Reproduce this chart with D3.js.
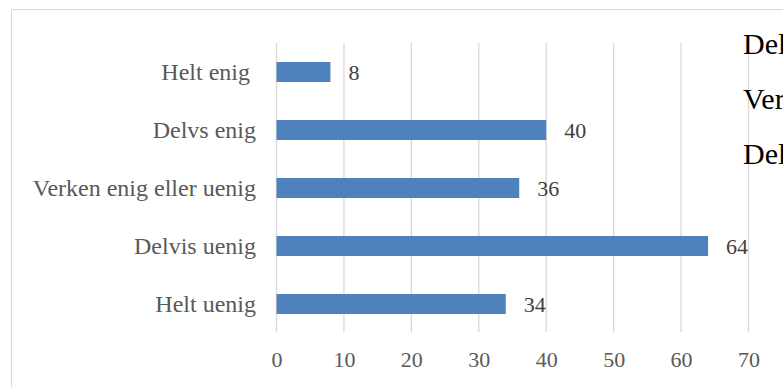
<!DOCTYPE html>
<html>
<head>
<meta charset="utf-8">
<script src="https://cdn.jsdelivr.net/npm/d3@7"></script>
<style>
  html, body { margin: 0; padding: 0; background: #fff; overflow: hidden; }
  svg { display: block; }
</style>
</head>
<body>
<script>
// Survey answers: number of respondents per answer option
const categories = ["Helt enig ", "Delvs enig", "Verken enig eller uenig", "Delvis uenig", "Helt uenig"];
const values = [8, 40, 36, 64, 34];
const tickValues = [0, 10, 20, 30, 40, 50, 60, 70];
const sideTexts = ["Delvis enig", "Verken enig eller uenig", "Delvis uenig"];

const W = 783, H = 387;
const svg = d3.select("body").append("svg").attr("width", W).attr("height", H);

// chart frame
svg.append("rect")
  .attr("x", 11.5).attr("y", 9.5)
  .attr("width", 900).attr("height", 420)
  .attr("fill", "none").attr("stroke", "#d9d9d9").attr("stroke-width", 1);

const x = d3.scaleLinear().domain([0, 70]).range([276.5, 748.5]);
const y = d3.scaleBand().domain(categories).range([43, 333]).paddingInner(0.655).paddingOuter(0.3275);

const serif = "'Liberation Serif', 'Times New Roman', serif";

// vertical gridlines
svg.append("g").selectAll("line").data(tickValues).join("line")
  .attr("x1", d => x(d)).attr("x2", d => x(d))
  .attr("y1", 43).attr("y2", 332)
  .attr("stroke", "#d9d9d9").attr("stroke-width", 1.3);

// x axis tick labels
const xAxis = d3.axisBottom(x).tickValues(tickValues).tickSize(0).tickPadding(0);
const gx = svg.append("g").attr("transform", "translate(0,351)").call(xAxis);
gx.select(".domain").remove();
gx.selectAll("text")
  .attr("dy", "0.71em")
  .attr("fill", "#595959")
  .style("font-family", serif).style("font-size", "22px");

// category labels
const yAxis = d3.axisLeft(y).tickSize(0).tickPadding(0);
const gy = svg.append("g").attr("transform", "translate(256,0)").call(yAxis);
gy.select(".domain").remove();
gy.selectAll("text")
  .attr("fill", "#595959")
  .style("font-family", serif).style("font-size", "24px")
  .style("white-space", "pre");

// bars
svg.append("g").selectAll("rect").data(values).join("rect")
  .attr("x", x(0))
  .attr("y", (d, i) => y(categories[i]))
  .attr("width", d => x(d) - x(0))
  .attr("height", y.bandwidth())
  .attr("fill", "#4f81bd");

// value labels
svg.append("g").selectAll("text").data(values).join("text")
  .attr("x", d => x(d) + 18)
  .attr("y", (d, i) => y(categories[i]) + y.bandwidth() / 2)
  .attr("dy", "0.35em")
  .attr("fill", "#404040")
  .style("font-family", serif).style("font-size", "22px")
  .text(d => d);

// side text running off the right edge
svg.append("g").selectAll("text").data(sideTexts).join("text")
  .attr("x", 743)
  .attr("y", (d, i) => 54 + i * 55)
  .attr("fill", "#000")
  .style("font-family", serif).style("font-size", "30px")
  .text(d => d);
</script>
</body>
</html>
